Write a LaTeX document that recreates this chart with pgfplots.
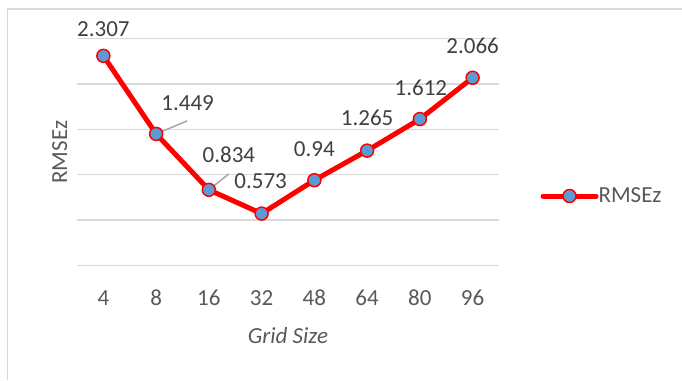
\documentclass[border=0pt]{standalone}
\usepackage{pgfplots}
\usepackage{pgfplotstable}
\pgfplotsset{compat=1.18}
\usepackage{fontspec}
\setmainfont{Carlito}

\definecolor{gridgray}{HTML}{D9D9D9}
\definecolor{ticktext}{HTML}{595959}
\definecolor{labeltext}{HTML}{404040}
\definecolor{markblue}{HTML}{5B9BD5}
\definecolor{leadergray}{HTML}{A6A6A6}

% RMSEz per grid size; dx/dy place each value label (pt)
\pgfplotstableread{
x y dx dy
0 2.307 0 19.5
1 1.449 31.5 23.3
2 0.834 20 27
3 0.573 -1 25
4 0.94 0 24
5 1.265 0 24.7
6 1.612 1 24
7 2.066 0 24.4
}\rmsedata

\begin{document}
\begin{tikzpicture}[x=1pt,y=1pt]
% page area, measured from the lower left corner of the plot box
\useasboundingbox (-77,-114.3) rectangle (605,265.7);
% chart frame
\draw[gridgray, line width=1.5pt] (-69.5,-114.3) -- (-69.5,256.7) -- (605,256.7);
\begin{axis}[
  % data origin (first category, y=0) sits half a category in from the left edge
  anchor=origin, at={(26.375pt,0pt)},
  scale only axis, width=422pt, height=227.4pt,
  xmin=-0.5, xmax=7.5, ymin=0, ymax=2.5,
  xtick={0,...,7}, xticklabels={4,8,16,32,48,64,80,96},
  ytick={0,0.5,...,2.5}, yticklabels={},
  ymajorgrids, grid style={gridgray, line width=1.5pt},
  axis line style={draw=none}, major tick length=0pt,
  clip=false,
  font=\fontsize{23}{27}\selectfont,
  xticklabel style={anchor=base, yshift=-39.3pt, text=ticktext, inner sep=0pt},
  xlabel={\itshape Grid Size}, ylabel={RMSEz},
  xlabel style={at={(axis description cs:0.5,0)}, anchor=base, yshift=-77.3pt, text=ticktext, inner sep=0pt},
  ylabel style={at={(axis description cs:-0.0237,0.5)}, anchor=base, text=ticktext, inner sep=0pt},
  legend style={at={(axis description cs:1.098,0.3065)}, anchor=west, draw=none, fill=none,
    inner sep=0pt, text=ticktext, font=\fontsize{23}{27}\selectfont, nodes={inner sep=0pt}},
  /tikz/every even column/.append style={column sep=5pt},
  legend image code/.code={
    \draw[red, line width=5pt, line cap=round] (0pt,0pt) -- (53pt,0pt);
    \draw[red, line width=1.5pt, fill=markblue] (26.5pt,0pt) circle (6.5pt);
  },
]
\addplot[red, line width=5pt, line join=round,
  mark=*, mark size=6.5pt, mark options={fill=markblue, draw=red, line width=1.5pt},
  visualization depends on={\thisrow{dx} \as \labdx},
  visualization depends on={\thisrow{dy} \as \labdy},
  nodes near coords={\pgfmathprintnumber[fixed, precision=3, assume math mode=true]{\pgfplotspointmeta}},
  every node near coord/.append style={anchor=base, xshift=\labdx, yshift=\labdy,
    text=labeltext, inner sep=0pt, font=\fontsize{23}{27}\selectfont},
] table[x=x, y=y] {\rmsedata};
\addlegendentry{RMSEz}
% leader lines for the two shifted value labels
\draw[leadergray, line width=1.5pt] (axis cs:1,1.449) -- ++(31pt,13pt);
\draw[leadergray, line width=1.5pt] (axis cs:2,0.834) -- ++(20pt,16pt);
\end{axis}
\end{tikzpicture}
\end{document}
